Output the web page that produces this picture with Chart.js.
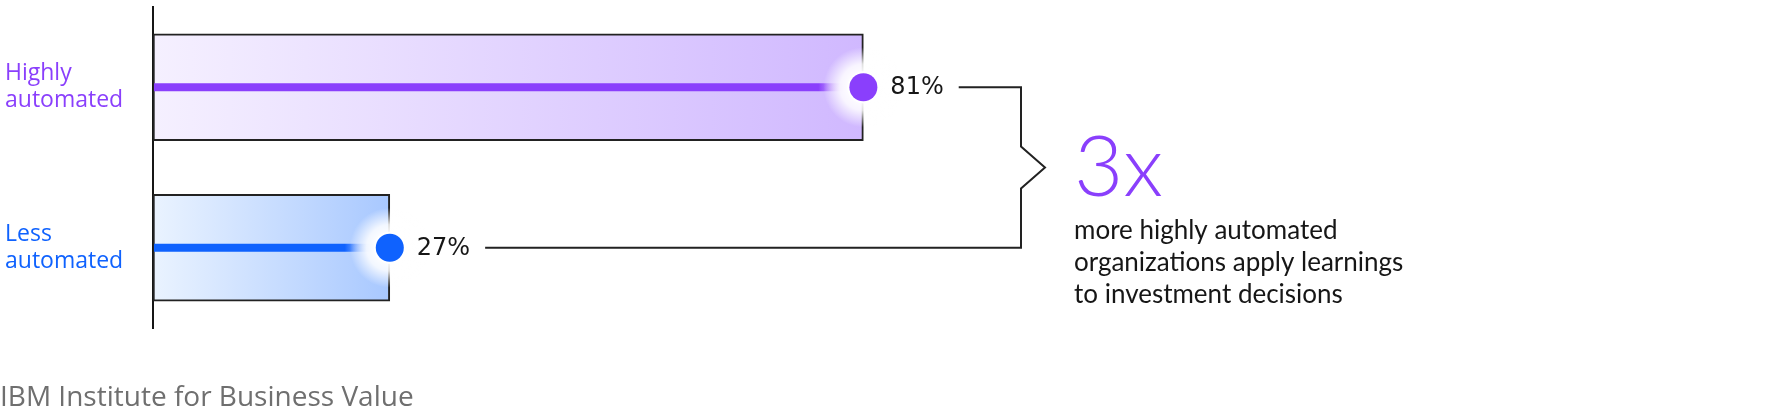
<!DOCTYPE html>
<html>
<head>
<meta charset="utf-8">
<script src="https://cdn.jsdelivr.net/npm/chart.js@4.4.1/dist/chart.umd.min.js"></script>
<style>
  html, body { margin: 0; padding: 0; background: #fff; }
  #wrap { width: 1787px; height: 416px; position: relative; }
</style>
</head>
<body>
<div id="wrap"><canvas id="chart"></canvas></div>
<script>
const categories = [['Highly', 'automated'], ['Less', 'automated']];
const values = [81, 27];
const valueLabels = ['81%', '27%'];
const mainColors = ['#8a3ffc', '#0f62fe'];
const lightColors = ['#f5f0ff', '#eaf3ff'];
const darkColors = ['#d0b8ff', '#a8c8ff'];
const headline = '3x';
const calloutLines = ['more highly automated', 'organizations apply learnings', 'to investment decisions'];
const source = 'IBM Institute for Business Value';

function barGradient(ctx) {
  const chart = ctx.chart;
  const area = chart.chartArea;
  if (!area) return lightColors[ctx.dataIndex];
  const x0 = chart.scales.x.getPixelForValue(0);
  const x1 = chart.scales.x.getPixelForValue(values[ctx.dataIndex]);
  const g = chart.ctx.createLinearGradient(x0, 0, x1, 0);
  g.addColorStop(0, lightColors[ctx.dataIndex]);
  g.addColorStop(1, darkColors[ctx.dataIndex]);
  return g;
}

const overlay = {
  id: 'overlay',
  afterDatasetsDraw(chart) {
    const c = chart.ctx;
    const xs = chart.scales.x;
    const meta = chart.getDatasetMeta(0);
    const x0 = xs.getPixelForValue(0);
    const ends = [];

    meta.data.forEach((bar, i) => {
      const x = xs.getPixelForValue(values[i]);
      const y = bar.y;

      // thick line fading into the dot
      const lg = c.createLinearGradient(x0, 0, x, 0);
      const fadeStart = Math.max(0, (x - x0 - 45) / (x - x0));
      lg.addColorStop(0, mainColors[i]);
      lg.addColorStop(fadeStart, mainColors[i]);
      lg.addColorStop(1, 'rgba(255,255,255,0)');
      c.fillStyle = lg;
      c.fillRect(x0 + 1, y - 4, x - x0 - 1, 8);

      // white glow
      const rg = c.createRadialGradient(x, y, 12, x, y, 40);
      rg.addColorStop(0, 'rgba(255,255,255,1)');
      rg.addColorStop(0.4, 'rgba(255,255,255,0.85)');
      rg.addColorStop(1, 'rgba(255,255,255,0)');
      c.fillStyle = rg;
      c.beginPath();
      c.arc(x, y, 40, 0, Math.PI * 2);
      c.fill();

      // dot
      c.fillStyle = '#ffffff';
      c.beginPath();
      c.arc(x, y, 16, 0, Math.PI * 2);
      c.fill();
      c.fillStyle = mainColors[i];
      c.beginPath();
      c.arc(x, y, 14, 0, Math.PI * 2);
      c.fill();

      // value label
      c.font = '24px "DejaVu Sans", sans-serif';
      c.fillStyle = '#161616';
      c.textAlign = 'left';
      c.textBaseline = 'middle';
      const lx = x + 27;
      c.fillText(valueLabels[i], lx, y + 1);
      ends.push({ x: lx + c.measureText(valueLabels[i]).width + 15, y: y });
    });

    // bracket linking the two values
    const bx = chart.chartArea.right - 9;
    const midY = (ends[0].y + ends[1].y) / 2;
    c.strokeStyle = '#222';
    c.lineWidth = 2;
    c.beginPath();
    c.moveTo(ends[0].x, ends[0].y);
    c.lineTo(bx, ends[0].y);
    c.lineTo(bx, midY - 21);
    c.lineTo(bx + 24, midY);
    c.lineTo(bx, midY + 21);
    c.lineTo(bx, ends[1].y);
    c.lineTo(ends[1].x, ends[1].y);
    c.stroke();

    // callout
    const tx = bx + 53;
    c.textAlign = 'left';
    c.textBaseline = 'alphabetic';
    c.fillStyle = mainColors[0];
    c.font = '300 85px Lato, sans-serif';
    c.fillText(headline, tx, 196);
    c.fillStyle = '#161616';
    c.font = '26px Lato, sans-serif';
    calloutLines.forEach((t, k) => c.fillText(t, tx, 239 + k * 32));

    // source
    c.fillStyle = '#6f6f6f';
    c.font = '28px "Open Sans", sans-serif';
    c.fillText(source, 0, 406);
  }
};

new Chart(document.getElementById('chart'), {
  type: 'bar',
  data: {
    labels: categories,
    datasets: [{
      data: values,
      backgroundColor: barGradient,
      borderColor: '#222',
      borderWidth: 2,
      borderSkipped: false,
      barThickness: 107
    }]
  },
  options: {
    indexAxis: 'y',
    responsive: true,
    maintainAspectRatio: false,
    animation: false,
    layout: { padding: { left: 5, right: 757, top: 7, bottom: 88 } },
    plugins: { legend: { display: false }, tooltip: { enabled: false } },
    scales: {
      x: { display: false, min: 0, max: 100 },
      y: {
        afterFit(scale) {
          scale.width = 148;
          scale.paddingTop = 0;
          scale.paddingBottom = 0;
        },
        grid: { display: false },
        border: { display: true, color: '#161616', width: 2 },
        ticks: {
          crossAlign: 'far',
          padding: 0,
          color: mainColors,
          font: { family: '"Open Sans", sans-serif', size: 23, lineHeight: 1.17 }
        }
      }
    }
  },
  plugins: [overlay]
});
</script>
</body>
</html>
